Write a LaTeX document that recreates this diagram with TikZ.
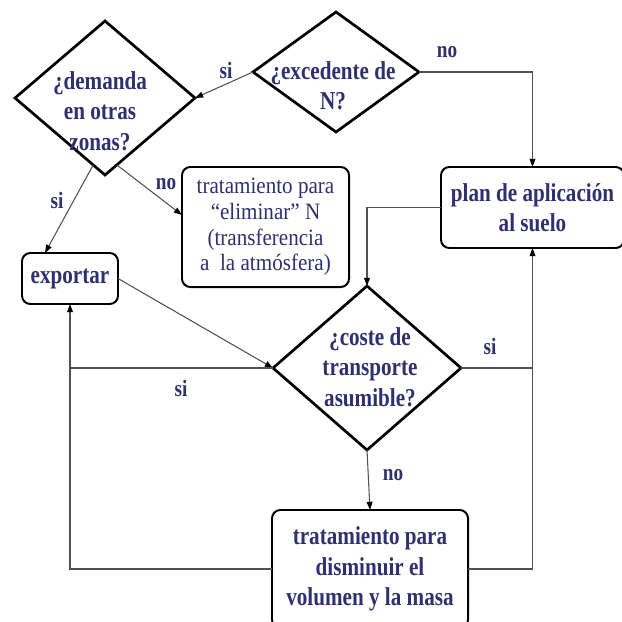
\documentclass[tikz,border=0pt]{standalone}
\usepackage{fontspec}
\newfontfamily\tbf[FakeStretch=0.82]{Liberation Serif}
\newfontfamily\trm[FakeStretch=0.9]{Liberation Serif}
\usetikzlibrary{shapes.geometric,arrows.meta,calc}
\definecolor{txt}{HTML}{2E3070}
\definecolor{lnk}{HTML}{505050}
\begin{document}
\begin{tikzpicture}[x=0.03cm,y=-0.03cm,
  dec/.style={diamond, draw=black, line width=2.3pt, inner sep=0pt, outer sep=0pt},
  tnode/.style={text=txt, align=center, inner sep=0pt, font=\tbf\bfseries\fontsize{22}{26}\selectfont},
  boxn/.style={rectangle, draw=black, line width=1.7pt, rounded corners=0.25cm, inner sep=0pt, outer sep=0pt,
    text=txt, align=center, font=\tbf\bfseries\fontsize{22}{26}\selectfont},
  rmbox/.style={font=\trm\fontsize{20}{22}\selectfont},
  conn/.style={draw=lnk, line width=0.9pt},
  arr/.style={conn, -{Triangle[length=7pt,width=5pt,color=black]}},
  lbl/.style={text=txt, inner sep=0pt, font=\tbf\bfseries\fontsize{20}{24}\selectfont}]
\useasboundingbox (0,0) rectangle (622,621);
\clip (0,0) rectangle (622,621);
\fill[white] (0,0) rectangle (622,621);

% decisions
\node[dec, minimum width=5.4cm, minimum height=4.62cm] (d1) at (105,98) {};
\node[tnode] (d1t) at (100,111) {¿demanda\\en otras\\zonas?};
\node[dec, minimum width=4.98cm, minimum height=3.6cm] (d2) at (336,72) {};
\node[tnode] (d2t) at (333,86) {¿excedente de\\N?};
\node[dec, minimum width=5.64cm, minimum height=4.92cm] (d3) at (367,368) {};
\node[tnode] (d3t) at (370,367) {¿coste de\\transporte\\asumible?};

% boxes
\node[boxn, minimum width=5.49cm, minimum height=2.43cm] (plan) at (532.5,207.5) {plan de aplicación\\al suelo};
\node[boxn, rmbox, minimum width=5.01cm, minimum height=3.6cm] (elim) at (265.5,227) {tratamiento para\\“eliminar” N\\(transferencia\\a\ \ la atmósfera)};
\node[boxn, minimum width=2.88cm, minimum height=1.53cm] (exp) at (70,278.5) {exportar};
\node[boxn, minimum width=5.88cm, minimum height=3.54cm] (vol) at (370,569) {tratamiento para\\disminuir el\\volumen y la masa};

% connectors
\draw[arr] (d2.west) -- (d1.east);
\node[lbl] (l1) at (226,70) {si};
\draw[arr] (d2.east) -| (plan.north);
\node[lbl] (l2) at (447,52) {no};
\draw[arr] (d1.-100) -- ($(exp.north)+(-25,0)$);
\node[lbl] (l3) at (57,200) {si};
\draw[arr] (d1.-80) -- ($(elim.west)+(0,-12)$);
\node[lbl] (l4) at (166,184) {no};
\draw[arr] (exp.east) -- (d3.west);
\draw[arr] (plan.west) -| (d3.north);
\draw[arr] (d3.east) -| (plan.south);
\node[lbl] (l5) at (490,346) {si};
\draw[arr] (d3.south) -- (vol.north);
\node[lbl] (l6) at (393,475) {no};
\coordinate (j1) at (d3.east -| plan.south);
\draw[conn] (vol.east) -| (j1);
\draw[arr] (vol.west) -| (exp.south);
\coordinate (j2) at (d3.west -| exp.south);
\draw[conn] (j2) -- (d3.west);
\node[lbl] (l7) at (181,388) {si};
\end{tikzpicture}
\end{document}
